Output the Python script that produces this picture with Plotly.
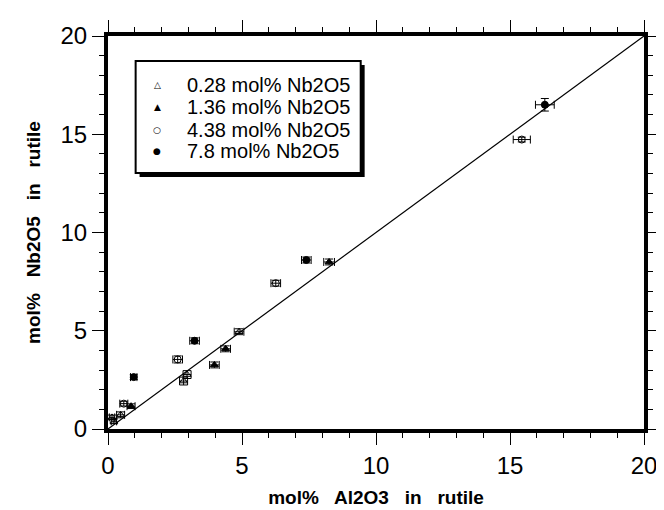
import plotly.graph_objects as go

# ---- data ----
s1_name = "0.28 mol% Nb2O5"
s1_x = [0.15, 0.22, 0.47, 2.82, 2.95, 4.89]
s1_y = [0.59, 0.39, 0.72, 2.44, 2.77, 4.95]
s1_ex = [0.10, 0.10, 0.15, 0.15, 0.15, 0.18]
s1_ey = [0.12, 0.12, 0.15, 0.20, 0.20, 0.15]

s2_name = "1.36 mol% Nb2O5"
s2_x = [0.86, 3.97, 4.39, 8.25]
s2_y = [1.16, 3.26, 4.08, 8.50]
s2_ex = [0.15, 0.18, 0.18, 0.20]
s2_ey = [0.12, 0.15, 0.15, 0.15]

s3_name = "4.38 mol% Nb2O5"
s3_x = [0.59, 2.60, 6.26, 15.44]
s3_y = [1.29, 3.54, 7.42, 14.73]
s3_ex = [0.15, 0.18, 0.18, 0.32]
s3_ey = [0.12, 0.18, 0.15, 0.12]

s4_name = "7.8 mol% Nb2O5"
s4_x = [0.96, 3.23, 7.40, 16.30]
s4_y = [2.64, 4.49, 8.60, 16.50]
s4_ex = [0.12, 0.18, 0.18, 0.35]
s4_ey = [0.12, 0.15, 0.15, 0.32]

line_x = [0, 20]
line_y = [0, 20]

x_title = "mol%   Al2O3   in   rutile"
y_title = "mol%   Nb2O5   in   rutile"
tick_vals = [0, 5, 10, 15, 20]
tick_text = ["0", "5", "10", "15", "20"]

FONT = "Liberation Sans, Arial, sans-serif"

# plot area in pixels (for placing the hand-drawn legend box)
L, R, T, B = 100, 643, 21, 428


def px(xp):
    return (xp - L) / (R - L)


def py(yp):
    return (B - yp) / (B - T)


fig = go.Figure()
fig.add_trace(go.Scatter(x=line_x, y=line_y, mode="lines",
                         line=dict(color="black", width=1.2), showlegend=False,
                         hoverinfo="skip"))

series = [
    (s1_name, s1_x, s1_y, s1_ex, s1_ey, "triangle-up-open", "\u25b3"),
    (s2_name, s2_x, s2_y, s2_ex, s2_ey, "triangle-up", "\u25b2"),
    (s3_name, s3_x, s3_y, s3_ex, s3_ey, "circle-open", "\u25cb"),
    (s4_name, s4_x, s4_y, s4_ex, s4_ey, "circle", "\u25cf"),
]
for name, xs, ys, ex, ey, sym, _ in series:
    fig.add_trace(go.Scatter(
        x=xs, y=ys, mode="markers", name=name, showlegend=False,
        marker=dict(symbol=sym, size=7, color="black",
                    line=dict(color="black", width=1)),
        error_x=dict(type="data", array=ex, visible=True, color="black",
                     thickness=1, width=4),
        error_y=dict(type="data", array=ey, visible=True, color="black",
                     thickness=1, width=4),
    ))

axis_common = dict(
    range=[0, 20], tickmode="array", tickvals=tick_vals, ticktext=tick_text,
    showgrid=False, zeroline=False, showline=True, linecolor="black",
    linewidth=4, mirror="ticks", ticks="outside", ticklen=12, tickwidth=1,
    tickcolor="black",
    minor=dict(ticks="outside", ticklen=5, tickwidth=1, tickcolor="black",
               dtick=1, showgrid=False),
    tickfont=dict(family=FONT, size=24, color="black"),
)

fig.update_xaxes(**axis_common,
                 title=dict(text=x_title, font=dict(family=FONT, size=19,
                                                    color="black", weight="bold"),
                            standoff=14))
fig.update_yaxes(**axis_common,
                 title=dict(text=y_title, font=dict(family=FONT, size=19,
                                                    color="black", weight="bold"),
                            standoff=16))

# hand-drawn legend box with drop shadow
bx0, bx1, by0, by1 = 128, 356, 47, 163
fig.add_shape(type="rect", xref="paper", yref="paper",
              x0=px(bx0 + 4), x1=px(bx1 + 4), y0=py(by1 + 4), y1=py(by0 + 4),
              fillcolor="black", line=dict(width=0), layer="above")
fig.add_shape(type="rect", xref="paper", yref="paper",
              x0=px(bx0), x1=px(bx1), y0=py(by1), y1=py(by0),
              fillcolor="white", line=dict(color="black", width=2), layer="above")
row_y = [72, 95, 118, 140]
for (name, *_rest), ry in zip(series, row_y):
    glyph = _rest[-1]
    fig.add_annotation(xref="paper", yref="paper", x=px(150), y=py(ry),
                       text=glyph, showarrow=False, xanchor="center",
                       yanchor="middle",
                       font=dict(family="DejaVu Sans", size=9, color="black"))
    fig.add_annotation(xref="paper", yref="paper", x=px(178), y=py(ry),
                       text=name, showarrow=False, xanchor="left",
                       yanchor="middle",
                       font=dict(family=FONT, size=20, color="black"))

fig.update_layout(
    width=664, height=510,
    margin=dict(l=L, r=664 - R, t=T, b=510 - B),
    paper_bgcolor="white", plot_bgcolor="white",
    font=dict(family=FONT, color="black"),
    showlegend=False,
)

fig.write_html("out.html")
